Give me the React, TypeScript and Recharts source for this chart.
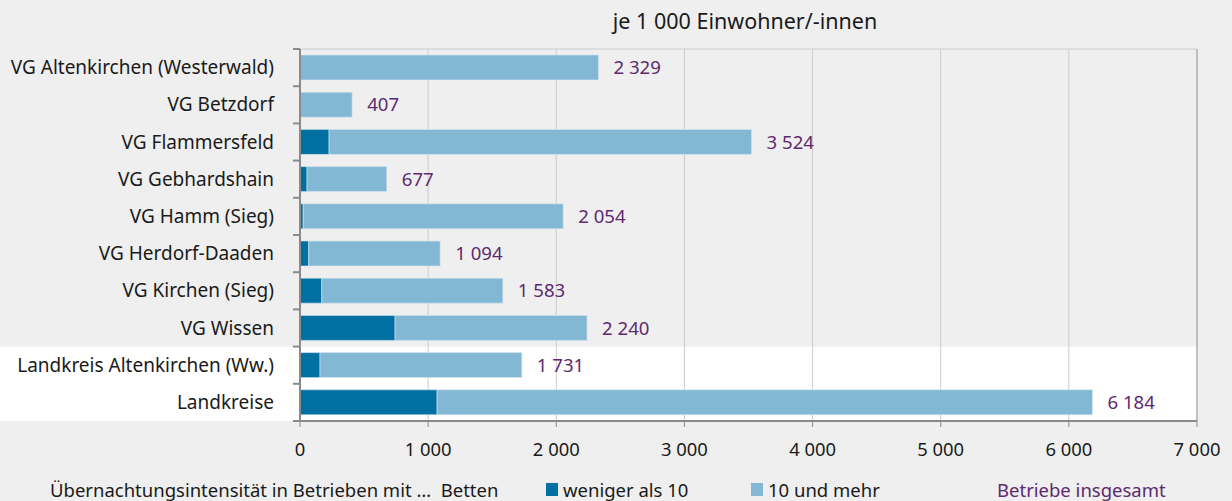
import React from 'react';
import {
  BarChart,
  Bar,
  XAxis,
  YAxis,
  CartesianGrid,
  ReferenceArea,
  ReferenceLine,
  LabelList,
} from 'recharts';

const categories = [
  'VG Altenkirchen (Westerwald)',
  'VG Betzdorf',
  'VG Flammersfeld',
  'VG Gebhardshain',
  'VG Hamm (Sieg)',
  'VG Herdorf-Daaden',
  'VG Kirchen (Sieg)',
  'VG Wissen',
  'Landkreis Altenkirchen (Ww.)',
  'Landkreise',
];
const smallBeds = [0, 0, 227, 55, 25, 68, 170, 742, 156, 1070];
const largeBeds = [2329, 407, 3297, 622, 2029, 1026, 1413, 1498, 1575, 5114];
const totals = [2329, 407, 3524, 677, 2054, 1094, 1583, 2240, 1731, 6184];
const xTicks = [0, 1000, 2000, 3000, 4000, 5000, 6000, 7000];

const data = categories.map((name, i) => ({
  name,
  small: smallBeds[i],
  large: largeBeds[i],
  total: totals[i],
}));

const W = 1232;
const H = 501;
const MARGIN = { top: 49, right: 35, bottom: 30, left: 0 };
const X_AXIS_H = 50;
const Y_AXIS_W = 300;
const PLOT_H = H - MARGIN.top - MARGIN.bottom - X_AXIS_H;
const BAND = PLOT_H / categories.length;

const FONT = "'Noto Sans', 'Open Sans', sans-serif";
const DARK = '#0070a2';
const LIGHT = '#83b8d5';
const PURPLE = '#5e2a6f';
const TEXT = '#1a1a1a';
const AXIS = '#8a8a8a';

const fmt = (v: number) => String(v).replace(/\B(?=(\d{3})+(?!\d))/g, ' ');

const YTick = (props: any) => {
  const { x, y, payload, index } = props;
  const last = index === categories.length - 1;
  return (
    <g>
      <line x1={x - 7} x2={x} y1={y - BAND / 2} y2={y - BAND / 2} stroke={AXIS} strokeWidth={2} />
      {last && (
        <line x1={x - 7} x2={x} y1={y + BAND / 2} y2={y + BAND / 2} stroke={AXIS} strokeWidth={2} />
      )}
      <text
        x={x - 26}
        y={y}
        dy="0.35em"
        textAnchor="end"
        fill={TEXT}
        fontSize={19}
        fontFamily={FONT}
      >
        {payload.value}
      </text>
    </g>
  );
};

const WhiteBand = (props: any) => {
  const { x, y, width, height } = props;
  return <rect x={0} y={y} width={x + width} height={height} fill="#ffffff" />;
};

const LEG_FS = 18.5;
const TITLE_FS = 21.5;

export default function App() {
  return (
    <div
      style={{
        position: 'absolute',
        left: 0,
        top: 0,
        width: W,
        height: H,
        background: '#eeefee',
        fontFamily: FONT,
        overflow: 'hidden',
      }}
    >
      <div
        style={{
          position: 'absolute',
          left: 445,
          width: 600,
          top: 10,
          textAlign: 'center',
          fontSize: TITLE_FS,
          lineHeight: `${TITLE_FS}px`,
          color: TEXT,
        }}
      >
        je 1 000 Einwohner/-innen
      </div>
      <BarChart
        width={W}
        height={H}
        data={data}
        layout="vertical"
        margin={MARGIN}
        barSize={25}
        style={{ position: 'absolute', left: 0, top: 0 }}
      >
        <ReferenceArea
          y1="Landkreis Altenkirchen (Ww.)"
          y2="Landkreise"
          ifOverflow="visible"
          shape={WhiteBand}
          zIndex={-200}
        />
        <CartesianGrid
          stroke="#cccccc"
          horizontalCoordinatesGenerator={({ offset }: any) => [offset.top]}
          verticalCoordinatesGenerator={({ offset }: any) =>
            xTicks.map((t) => offset.left + (t / 7000) * offset.width)
          }
        />
        <ReferenceLine x={7000} stroke="#a0a0a0" />
        <XAxis
          type="number"
          domain={[0, 7000]}
          ticks={xTicks}
          interval={0}
          height={X_AXIS_H}
          tickFormatter={fmt}
          axisLine={{ stroke: AXIS, strokeWidth: 2 }}
          tickLine={{ stroke: AXIS }}
          tickSize={6}
          tickMargin={16}
          tick={{ fill: TEXT, fontSize: 18.4, fontFamily: FONT }}
        />
        <YAxis
          type="category"
          dataKey="name"
          width={Y_AXIS_W}
          interval={0}
          axisLine={{ stroke: AXIS, strokeWidth: 2 }}
          tickLine={false}
          tickSize={0}
          tickMargin={0}
          tick={<YTick />}
        />
        <Bar dataKey="small" stackId="a" fill={DARK} stroke="#d8e8f0" strokeWidth={0.6} isAnimationActive={false} />
        <Bar dataKey="large" stackId="a" fill={LIGHT} stroke="#d8e8f0" strokeWidth={0.6} isAnimationActive={false}>
          <LabelList
            dataKey="total"
            position="right"
            offset={15}
            formatter={(v: any) => fmt(Number(v))}
            fill={PURPLE}
            fontSize={18.6}
            fontFamily={FONT}
          />
        </Bar>
      </BarChart>
      <div
        style={{
          position: 'absolute',
          top: 481,
          left: 0,
          width: W,
          height: 20,
          fontSize: LEG_FS,
          lineHeight: `${LEG_FS}px`,
          color: TEXT,
          whiteSpace: 'pre',
        }}
      >
        <span style={{ position: 'absolute', left: 50 }}>
          {'Übernachtungsintensität in Betrieben mit …  Betten'}
        </span>
        <span style={{ position: 'absolute', left: 546, top: 2, width: 12, height: 13, background: DARK }} />
        <span style={{ position: 'absolute', left: 563 }}>weniger als 10</span>
        <span style={{ position: 'absolute', left: 751, top: 2, width: 12, height: 13, background: LIGHT }} />
        <span style={{ position: 'absolute', left: 768 }}>10 und mehr</span>
        <span style={{ position: 'absolute', left: 997, color: PURPLE }}>Betriebe insgesamt</span>
      </div>
    </div>
  );
}
